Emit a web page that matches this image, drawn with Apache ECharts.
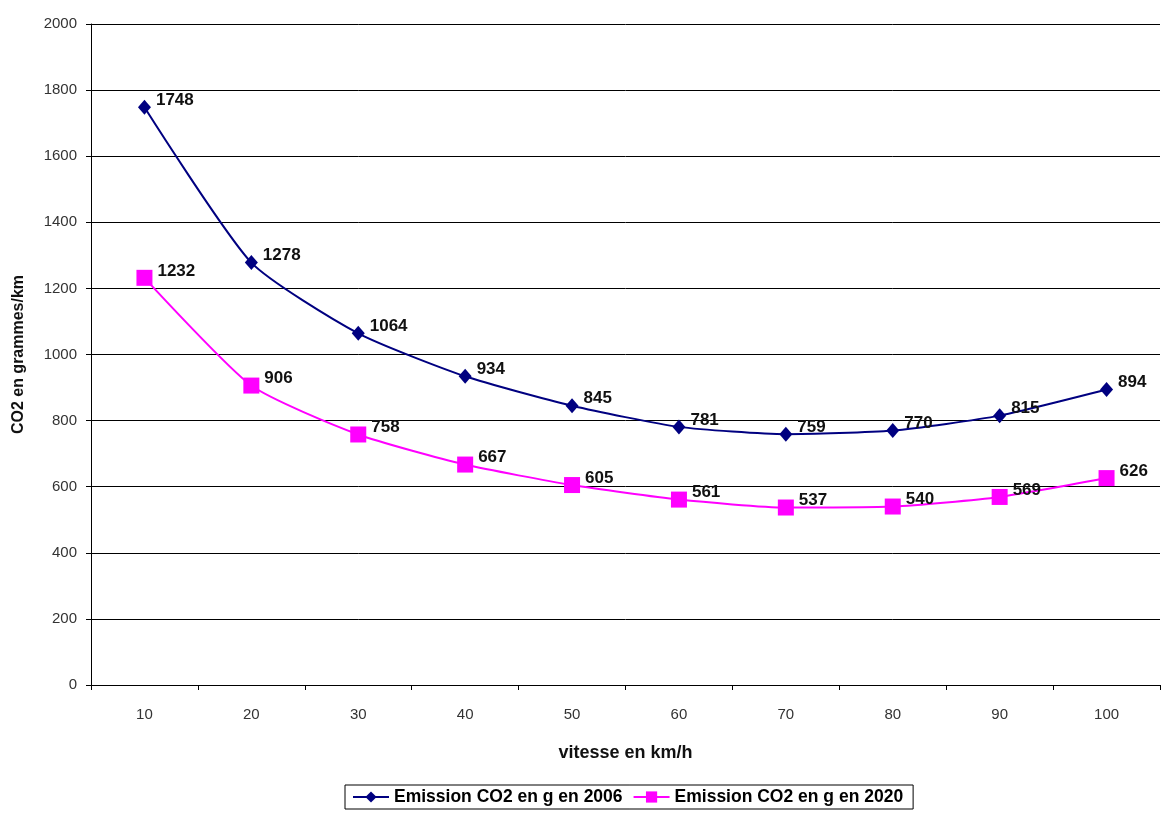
<!DOCTYPE html>
<html><head><meta charset="utf-8">
<script src="https://cdn.jsdelivr.net/npm/echarts@6/dist/echarts.min.js"></script>
<style>html,body{margin:0;padding:0;background:#fff}#c{width:1161px;height:814px}</style>
</head><body><div id="c"></div>
<script>
const categories = ['10','20','30','40','50','60','70','80','90','100'];
const series2006 = [1748,1278,1064,934,845,781,759,770,815,894];
const series2020 = [1232,906,758,667,605,561,537,540,569,626];
const seriesNames = ['Emission CO2 en g en 2006','Emission CO2 en g en 2020'];
const yTitle = 'CO2 en grammes/km';
const xTitle = 'vitesse en km/h';

const chart = echarts.init(document.getElementById('c'), null, {renderer:'canvas'});
const font = '"Liberation Sans", Arial, sans-serif';
const lbl = {show:true, position:'right', distance:5, offset:[0,-7], fontFamily:font, fontWeight:'bold', fontSize:17, color:'#111'};
chart.setOption({
  animation:false,
  backgroundColor:'#fff',
  grid:{left:91, right:1, top:24, bottom:129, outerBoundsMode:'none', containLabel:false},
  legend:{
    top:785, left:345,
    data:seriesNames,
    borderColor:'#000', borderWidth:1, padding:[3,10,3,7],
    itemGap:10, itemWidth:36, itemHeight:14,
    textStyle:{fontFamily:font, fontWeight:'bold', fontSize:17.5, color:'#000'}
  },
  xAxis:{
    type:'category', data:categories, boundaryGap:true,
    name:xTitle, nameLocation:'middle', nameGap:59,
    nameTextStyle:{fontFamily:font, fontWeight:'bold', fontSize:18, color:'#111'},
    axisLine:{lineStyle:{color:'#000', width:1}},
    axisTick:{show:true, alignWithLabel:false, length:5, lineStyle:{color:'#000'}},
    axisLabel:{margin:22, fontFamily:font, fontSize:15, color:'#333'},
    splitLine:{show:false}
  },
  yAxis:{
    type:'value', min:0, max:2000, interval:200,
    name:yTitle, nameLocation:'middle', nameGap:64, nameRotate:90,
    nameTextStyle:{fontFamily:font, fontWeight:'bold', fontSize:16, color:'#111'},
    axisLine:{show:true, lineStyle:{color:'#000', width:1}},
    axisTick:{show:true, length:5, lineStyle:{color:'#000'}},
    axisLabel:{margin:14, fontFamily:font, fontSize:15, color:'#333', formatter:function(v){return String(v);}},
    splitLine:{show:true, lineStyle:{color:'#000', width:1}}
  },
  series:[
    {name:seriesNames[0], type:'line', data:series2006, smooth:0.2,
     symbol:'diamond', symbolSize:[13,15],
     itemStyle:{color:'#000080'}, lineStyle:{color:'#000080', width:2},
     label:lbl, z:3},
    {name:seriesNames[1], type:'line', data:series2020, smooth:0.2,
     symbol:'rect', symbolSize:16,
     itemStyle:{color:'#ff00ff'}, lineStyle:{color:'#ff00ff', width:2},
     label:lbl, z:2}
  ]
});
</script></body></html>
